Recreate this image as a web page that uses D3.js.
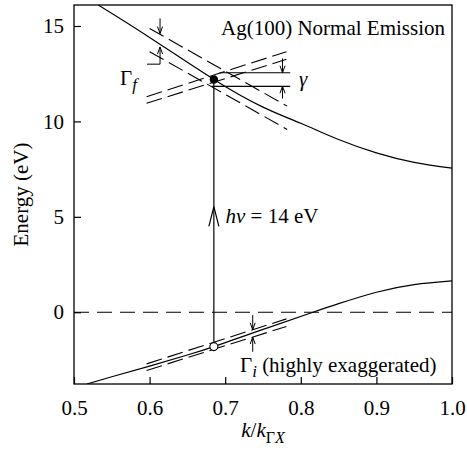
<!DOCTYPE html>
<html>
<head>
<meta charset="utf-8">
<script src="https://cdn.jsdelivr.net/npm/d3@7"></script>
<style>
  body { margin: 0; background: #fff; }
  svg text { font-family: 'Liberation Serif', 'Times New Roman', serif; fill: #000; }
</style>
</head>
<body>
<svg id="chart" width="467" height="457"></svg>
<script>
// band values (k / k_GX, energy in eV)
var upperBand = [[0.532, 16.1], [0.6, 14.4], [0.685, 12.2], [0.75, 10.75], [0.8, 9.9],
                 [0.85, 9.05], [0.9, 8.35], [0.95, 7.85], [1.0, 7.55]];
var lowerBand = [[0.517, -3.76], [0.55, -3.38], [0.6, -2.82], [0.65, -2.24], [0.685, -1.8],
                 [0.75, -0.9], [0.816, 0], [0.85, 0.45], [0.9, 1.05], [0.95, 1.45], [1.0, 1.64]];

var photonEnergy = 14;
var kTransition = 0.685;
var finalState = 12.2;
var initialState = -1.8;

// broadened initial band (dashed pair), and final band Gamma_f
var initialWidth = [[[0.596, -2.705], [0.781, -0.347]], [[0.596, -3.05], [0.781, -0.745]]];
var finalWidth = [[[0.6, 14.87], [0.782, 10.8]], [[0.6, 13.655], [0.782, 9.58]]];
var gammaLevels = [[0.6925, 12.55], [0.682, 11.84]];
var gammaEnd = 0.786;

var xTicks = [0.5, 0.6, 0.7, 0.8, 0.9, 1.0];
var yTicks = [0, 5, 10, 15];

var margin = {top: 5, right: 15, bottom: 73, left: 74};
var width = 467 - margin.left - margin.right,
    height = 457 - margin.top - margin.bottom;

var serif = "'Liberation Serif', 'Times New Roman', serif";

var svg = d3.select("#chart");
var g = svg.append("g").attr("transform", "translate(" + margin.left + "," + margin.top + ")");

var x = d3.scaleLinear().domain([0.5, 1.0]).range([0, width]);
var y = d3.scaleLinear().domain([-3.76, 16.1]).range([height, 0]);

g.append("clipPath").attr("id", "plot")
  .append("rect").attr("width", width).attr("height", height);

var line = d3.line()
  .x(function(d) { return x(d[0]); })
  .y(function(d) { return y(d[1]); });

var curve = d3.line()
  .curve(d3.curveNatural)
  .x(function(d) { return x(d[0]); })
  .y(function(d) { return y(d[1]); });

// axes, ticks inward
var xAxis = d3.axisBottom(x).tickValues(xTicks).tickFormat(d3.format(".1f"))
  .tickSizeInner(-7).tickSizeOuter(0).tickPadding(16);
var yAxis = d3.axisLeft(y).tickValues(yTicks).tickFormat(d3.format("d"))
  .tickSizeInner(-7).tickSizeOuter(0).tickPadding(10);

var gx = g.append("g").attr("transform", "translate(0," + height + ")").call(xAxis);
var gy = g.append("g").call(yAxis);
[gx, gy].forEach(function(a) {
  a.attr("font-family", serif).attr("font-size", 21);
  a.select(".domain").remove();
  a.selectAll("line").attr("stroke", "#000").attr("stroke-width", 1.2);
  a.selectAll("text").attr("fill", "#000").style("font-family", serif).style("font-size", "21px");
});

g.append("rect").attr("width", width).attr("height", height)
  .attr("fill", "none").attr("stroke", "#000").attr("stroke-width", 1.3);

var plot = g.append("g").attr("clip-path", "url(#plot)");

// Fermi level
plot.append("path")
  .attr("d", line([[0.5, 0], [1.0, 0]]))
  .attr("fill", "none").attr("stroke", "#000").attr("stroke-width", 1.2)
  .attr("stroke-dasharray", "15,8");

plot.selectAll(".band")
  .data([upperBand, lowerBand])
  .enter().append("path")
  .attr("class", "band")
  .attr("d", curve)
  .attr("fill", "none").attr("stroke", "#000").attr("stroke-width", 1.2);

// broadened bands, initial one shifted up by h nu
var shifted = initialWidth.map(function(seg) {
  return seg.map(function(p) { return [p[0], p[1] + photonEnergy]; });
});
plot.selectAll(".width")
  .data(initialWidth.concat(shifted).concat(finalWidth))
  .enter().append("path")
  .attr("class", "width")
  .attr("d", line)
  .attr("fill", "none").attr("stroke", "#000").attr("stroke-width", 1.1)
  .attr("stroke-dasharray", "16,6");

// gamma levels
g.selectAll(".gam")
  .data(gammaLevels)
  .enter().append("path")
  .attr("class", "gam")
  .attr("d", function(d) { return line([d, [gammaEnd, d[1]]]); })
  .attr("fill", "none").attr("stroke", "#000").attr("stroke-width", 1.2);

// transition
g.append("path")
  .attr("d", line([[kTransition, finalState], [kTransition, initialState]]))
  .attr("stroke", "#000").attr("stroke-width", 1.2);

function arrow(x0, y0, x1, y1, w, len) {
  // y in pixels; small open arrowhead at (x1, y1)
  var dir = y1 > y0 ? -1 : 1;
  var p = d3.path();
  p.moveTo(x0, y0); p.lineTo(x1, y1);
  p.moveTo(x1 - w, y1 + dir * len); p.lineTo(x1, y1); p.lineTo(x1 + w, y1 + dir * len);
  return p.toString();
}

var ax = x(kTransition);
// h nu arrow head
g.append("path")
  .attr("d", arrow(ax, y(5.53), ax, y(5.53), 5, y(4.5) - y(5.53)))
  .attr("fill", "none").attr("stroke", "#000").attr("stroke-width", 1.2);

var arrows = g.append("g").attr("fill", "none").attr("stroke", "#000").attr("stroke-width", 1);
// Gamma_f
var fx = x(0.6138);
arrows.append("path").attr("d", arrow(fx, y(15.4), fx, y(14.6), 2.5, 7));
arrows.append("path").attr("d", arrow(fx, y(13.0), fx, y(13.9), 2.5, 7));
arrows.append("path").attr("d", line([[0.5966, 13.0], [0.6138, 13.0]]));
// gamma
var gx2 = x(0.7758);
arrows.append("path").attr("d", arrow(gx2, y(13.3), gx2, y(12.55), 2.5, 7));
arrows.append("path").attr("d", arrow(gx2, y(11.2), gx2, y(11.84), 2.5, 7));
// Gamma_i
var ix = x(0.7364);
arrows.append("path").attr("d", arrow(ix, y(-0.15), ix, y(-0.92), 2.5, 7));
arrows.append("path").attr("d", arrow(ix, y(-2.07), ix, y(-1.3), 2.5, 7));

// states
g.append("circle").attr("cx", ax).attr("cy", y(finalState)).attr("r", 4.2).attr("fill", "#000");
g.append("circle").attr("cx", ax).attr("cy", y(initialState)).attr("r", 4)
  .attr("fill", "#fff").attr("stroke", "#000").attr("stroke-width", 1.1);

// labels
var fs = "21px";
g.append("text").attr("x", width - 7).attr("y", 30).attr("text-anchor", "end")
  .style("font-size", fs).text("Ag(100) Normal Emission");

var hv = g.append("text").attr("x", x(0.7004)).attr("y", 218).style("font-size", fs);
hv.append("tspan").style("font-style", "italic").text("hν");
hv.append("tspan").text(" = " + photonEnergy + " eV");

var gf = g.append("text").attr("x", 46).attr("y", 80).style("font-size", fs);
gf.append("tspan").text("Γ");
gf.append("tspan").attr("dy", 5).style("font-style", "italic").style("font-size", "17px").text("f");

g.append("text").attr("x", 225).attr("y", 81).style("font-size", fs)
  .style("font-style", "italic").text("γ");

var gi = g.append("text").attr("x", 166).attr("y", 367).style("font-size", fs);
gi.append("tspan").text("Γ");
gi.append("tspan").attr("dy", 5).style("font-style", "italic").style("font-size", "17px").text("i");
gi.append("tspan").attr("dy", -5).text(" (highly exaggerated)");

var xl = g.append("text").attr("x", width / 2).attr("y", 432).attr("text-anchor", "middle")
  .style("font-size", fs);
xl.append("tspan").style("font-style", "italic").text("k");
xl.append("tspan").text("/");
xl.append("tspan").style("font-style", "italic").text("k");
xl.append("tspan").attr("dy", 6).style("font-size", "16px").text("Γ");
xl.append("tspan").style("font-size", "16px").style("font-style", "italic").text("X");

g.append("text").attr("transform", "translate(-46," + (height / 2) + ") rotate(-90)")
  .attr("text-anchor", "middle").style("font-size", fs).text("Energy (eV)");
</script>
</body>
</html>
